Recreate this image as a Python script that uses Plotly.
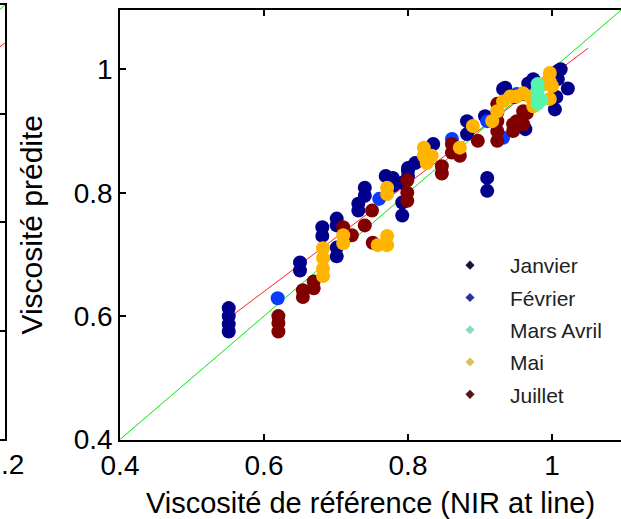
import plotly.graph_objects as go

# ---------------- data ----------------
jan_x = [0.551, 0.551, 0.551, 0.551, 0.650, 0.650, 0.681, 0.681, 0.701, 0.701, 0.701, 0.701,
         0.731, 0.731, 0.740, 0.740, 0.769, 0.779, 0.779, 0.792, 0.792, 0.792, 0.800, 0.800, 0.800,
         0.810, 0.835, 0.882, 0.882, 0.907, 0.910, 0.910, 0.935, 0.948, 0.932, 0.963, 0.967, 0.974,
         1.004, 1.006, 1.008, 1.008, 1.012, 1.022]
jan_y = [0.613, 0.600, 0.587, 0.575, 0.687, 0.674, 0.744, 0.730, 0.758, 0.747, 0.711, 0.697,
         0.782, 0.771, 0.808, 0.795, 0.827, 0.824, 0.811, 0.816, 0.784, 0.763, 0.836, 0.840, 0.827,
         0.848, 0.879, 0.916, 0.895, 0.924, 0.824, 0.803, 0.970, 0.955, 0.968, 0.903, 0.977, 0.984,
         0.935, 0.955, 0.997, 0.984, 1.000, 0.969]

fev_x = [0.619, 0.760, 0.861, 0.910, 0.932, 0.951]
fev_y = [0.629, 0.790, 0.887, 0.916, 0.889, 0.960]

mars_x = [0.980, 0.980, 0.980, 0.980, 0.985]
mars_y = [0.976, 0.966, 0.956, 0.944, 0.950]

mai_x = [0.682, 0.682, 0.682, 0.682, 0.710, 0.710, 0.758, 0.771, 0.771, 0.771, 0.771,
         0.822, 0.822, 0.826, 0.833, 0.872, 0.890, 0.917, 0.924, 0.932, 0.942, 0.951, 0.960,
         0.969, 0.974, 0.997, 0.997, 1.000, 0.997, 0.990]
mai_y = [0.710, 0.694, 0.677, 0.665, 0.731, 0.718, 0.715, 0.730, 0.715, 0.808, 0.798,
         0.873, 0.860, 0.848, 0.860, 0.873, 0.908, 0.916, 0.932, 0.948, 0.956, 0.956, 0.961,
         0.956, 0.940, 0.994, 0.980, 0.973, 0.952, 0.976]

jul_x = [0.620, 0.620, 0.620, 0.654, 0.654, 0.669, 0.669, 0.710, 0.722, 0.740, 0.750, 0.751,
         0.799, 0.799, 0.799, 0.847, 0.847, 0.861, 0.861, 0.872, 0.897, 0.924, 0.924, 0.924,
         0.924, 0.924, 0.946, 0.946, 0.951, 0.960, 0.960, 0.960, 0.965]
jul_y = [0.600, 0.589, 0.575, 0.642, 0.631, 0.656, 0.645, 0.744, 0.731, 0.747, 0.771, 0.719,
         0.820, 0.800, 0.787, 0.843, 0.831, 0.879, 0.865, 0.860, 0.884, 0.944, 0.930, 0.916,
         0.900, 0.884, 0.911, 0.900, 0.916, 0.932, 0.911, 0.960, 0.929]

fit_x = [0.55, 1.05]
fit_y = [0.596, 1.034]
ident = [0.4, 1.1]

# left (cropped) neighbour panel
left_ident = [1.0, 1.2]
left_fit_x = [1.0, 1.2]
left_fit_y = [0.96, 1.13]

series_names = ["Janvier", "Février", "Mars Avril", "Mai", "Juillet"]
x_ticks = [0.4, 0.6, 0.8, 1.0]
x_tick_text = ["0.4", "0.6", "0.8", "1"]
y_ticks = [0.4, 0.6, 0.8, 1.0]
y_tick_text = ["0.4", "0.6", "0.8", "1"]

# ---------------- style ----------------
W, H = 621, 519
FONT = "Liberation Sans, Arial, sans-serif"
colors = {"Janvier": "#00008b", "Février": "#0a3cff", "Mars Avril": "#55f5b0",
          "Mai": "#ffb400", "Juillet": "#800000"}
legend_colors = {"Janvier": "#14143c", "Février": "#2a32a0", "Mars Avril": "#88dcc4",
                 "Mai": "#dcc060", "Juillet": "#5a1414"}

px_left, px_right = 120, 621
px_bottom, px_top = 439.5, 10
xd = [px_left / W, px_right / W]
yd = [(H - px_bottom) / H, (H - px_top) / H]
xr = [0.4, 0.4 + (px_right - px_left) / 720.0]
yr = [0.4, 0.4 + (px_bottom - px_top) / 617.0]

fig = go.Figure()

# reference lines
fig.add_trace(go.Scatter(x=ident, y=ident, mode="lines", line=dict(color="#00e600", width=1),
                         showlegend=False, hoverinfo="skip"))
fig.add_trace(go.Scatter(x=fit_x, y=fit_y, mode="lines", line=dict(color="#ff2020", width=1),
                         showlegend=False, hoverinfo="skip"))

data = {"Janvier": (jan_x, jan_y), "Février": (fev_x, fev_y), "Mars Avril": (mars_x, mars_y),
        "Mai": (mai_x, mai_y), "Juillet": (jul_x, jul_y)}
for name in ["Janvier", "Février", "Juillet", "Mai", "Mars Avril"]:
    xs, ys = data[name]
    fig.add_trace(go.Scatter(x=xs, y=ys, mode="markers", name=name, showlegend=False,
                             marker=dict(color=colors[name], size=14, line=dict(width=0))))

# legend entries
for i, name in enumerate(series_names):
    fig.add_trace(go.Scatter(x=[None], y=[None], mode="markers", name=name, legendrank=i + 1,
                             legendgroup=name,
                             marker=dict(color=legend_colors[name], size=7, symbol="diamond",
                                         line=dict(width=0))))

# left cropped panel
fig.add_trace(go.Scatter(x=left_ident, y=left_ident, mode="lines", xaxis="x2", yaxis="y2",
                         line=dict(color="#00e600", width=1), showlegend=False, hoverinfo="skip"))
fig.add_trace(go.Scatter(x=left_fit_x, y=left_fit_y, mode="lines", xaxis="x2", yaxis="y2",
                         line=dict(color="#ff2020", width=1), showlegend=False, hoverinfo="skip"))

axis_common = dict(showgrid=False, zeroline=False, showline=True, linecolor="black", linewidth=1.5,
                   ticks="inside", ticklen=6, tickwidth=1.5, tickcolor="black",
                   tickfont=dict(family=FONT, size=28, color="black"))

fig.update_layout(
    width=W, height=H,
    margin=dict(l=0, r=0, t=0, b=0),
    paper_bgcolor="white", plot_bgcolor="white",
    font=dict(family=FONT, color="black"),
    xaxis=dict(domain=xd, range=xr, tickvals=x_ticks, ticktext=x_tick_text, mirror="ticks",
               title=dict(text="Viscosité de référence (NIR at line)",
                          font=dict(family=FONT, size=29, color="black"), standoff=23),
               automargin=False, **axis_common),
    yaxis=dict(domain=yd, range=yr, tickvals=y_ticks, ticktext=y_tick_text, anchor="x",
               title=dict(text="Viscosité prédite", font=dict(family=FONT, size=30, color="black"),
                          standoff=22),
               automargin=False, **axis_common),
    yaxis3=dict(overlaying="y", side="right", anchor="x", range=yr, tickvals=y_ticks,
                showticklabels=False, showline=False, showgrid=False, zeroline=False,
                ticks="inside", ticklen=3, tickwidth=1.5, tickcolor="black"),
    xaxis2=dict(domain=[0, 5 / W], range=[1.192, 1.2002], tickvals=[1.2], ticktext=["1.2"],
                anchor="y2", mirror="ticks", automargin=False, ticklabeloverflow="allow",
                **axis_common),
    yaxis2=dict(domain=[(H - 439) / H, (H - 5) / H], range=[0.4, 1.2], anchor="x2", side="right",
                tickvals=[0.4, 0.6, 0.8, 1.0, 1.2], showticklabels=False, mirror=False,
                automargin=False, **{k: v for k, v in axis_common.items() if k != "tickfont"}),
    legend=dict(x=430 / W, y=1 - 245 / H, xanchor="left", yanchor="top", traceorder="grouped",
                bgcolor="rgba(255,255,255,0)", borderwidth=0, itemwidth=70,
                font=dict(family=FONT, size=21, color="#222222"), tracegroupgap=2),
)

fig.write_html("out.html", config={"displayModeBar": False},
               post_script="document.body.style.margin='0';")
